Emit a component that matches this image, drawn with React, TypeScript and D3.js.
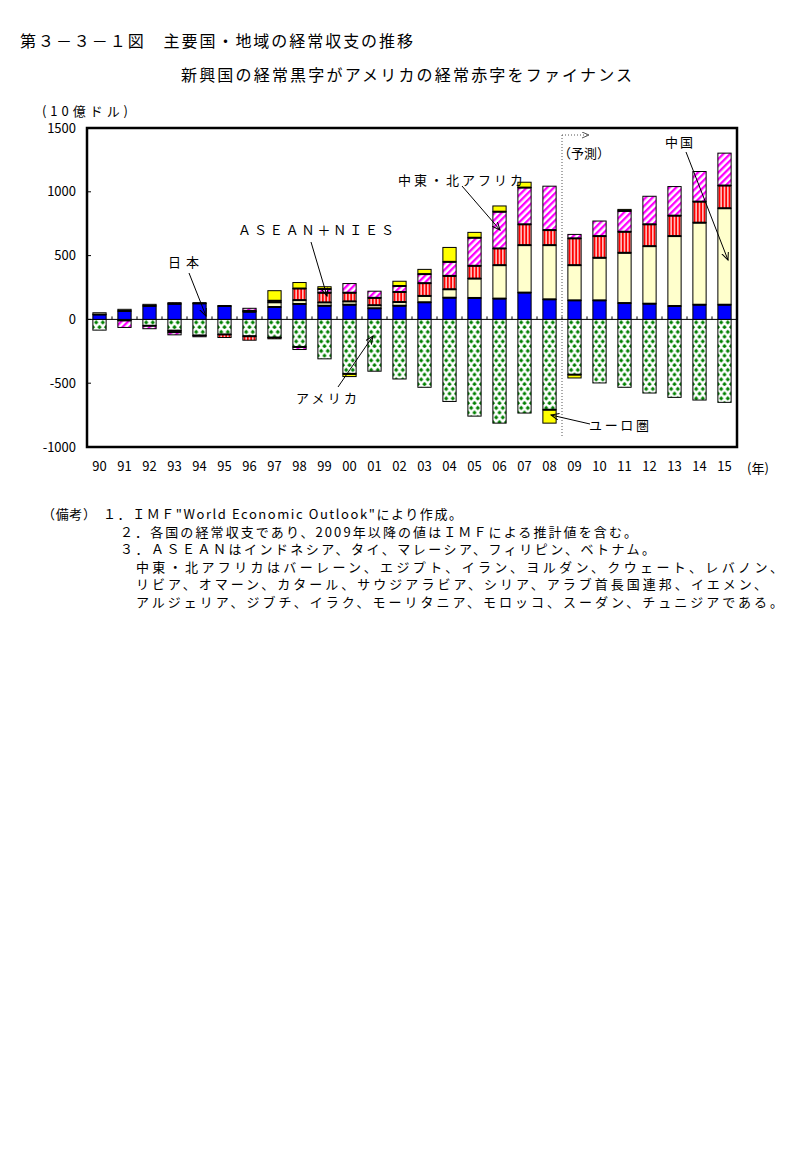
import React from 'react';
import * as d3 from 'd3';

const years = ['90','91','92','93','94','95','96','97','98','99','00','01','02','03','04','05','06','07','08','09','10','11','12','13','14','15'];
const usValues = [-84,-8,-50,-88,-126,-118,-132,-142,-216,-309,-427,-406,-467,-532,-643,-758,-813,-734,-708,-433,-498,-532,-577,-611,-632,-650];
const japanValues = [38,66,106,122,125,105,60,97,121,107,115,87,107,134,170,168,163,210,157,149,149,128,123,105,115,115];
const chinaValues = [14,13,12,-12,6,2,7,37,30,26,26,24,29,50,66,152,262,372,425,276,334,394,451,548,643,756];
const aseanValues = [0,0,0,9,0,-24,-31,-10,91,76,68,58,79,100,105,100,131,163,118,210,170,165,171,160,165,178];
const menaValues = [0,-55,-23,-21,-10,0,20,12,-20,29,72,52,47,71,110,220,288,288,344,31,118,163,220,228,236,254];
const euroValues = [0,0,0,0,0,0,0,79,47,18,-21,0,37,37,113,42,45,42,-105,-26,0,12,0,0,0,0];
const yTicks = [1500,1000,500,0,-500,-1000];

const keys = ['us','japan','china','asean','mena','euro'];
const FONT = "'Noto Sans CJK JP', 'Noto Sans', sans-serif";

export default function App() {
  const x = d3.scaleBand<string>().domain(years).range([87, 737]).paddingInner(0.47).paddingOuter(0.235);
  const y = d3.scaleLinear().domain([-1000, 1500]).range([447, 128]);
  const bw = x.bandwidth();

  const rows = years.map((yr, i) => ({
    year: yr, us: usValues[i], japan: japanValues[i], china: chinaValues[i],
    asean: aseanValues[i], mena: menaValues[i], euro: euroValues[i],
  }));
  const series = d3.stack<any>().keys(keys).offset(d3.stackOffsetDiverging)(rows);

  const fillFor = (key: string, i: number) => {
    switch (key) {
      case 'us': return `url(#dia${i})`;
      case 'japan': return '#0000FF';
      case 'china': return '#FFFFCC';
      case 'asean': return 'url(#stripe)';
      case 'mena': return 'url(#hatch)';
      default: return '#FFFF00';
    }
  };

  const bars: React.ReactNode[] = [];
  const seps: React.ReactNode[] = [];
  years.forEach((yr, i) => {
    const segs = series.map(s => ({ key: s.key, a: s[i][0], b: s[i][1] })).filter(d => d.a !== d.b);
    const pos = segs.filter(d => d.b > 0 && d.a >= 0).sort((p, q) => p.a - q.a);
    const neg = segs.filter(d => d.b <= 0 && d.a < 0).sort((p, q) => q.b - p.b);
    const x0 = x(yr)!;
    segs.forEach(d => {
      const top = y(Math.max(d.a, d.b));
      const bot = y(Math.min(d.a, d.b));
      bars.push(<rect key={`${yr}-${d.key}`} x={x0} y={top} width={bw} height={bot - top}
        fill={fillFor(d.key, i)} stroke="#000" strokeWidth={1} />);
    });
    pos.slice(0, -1).forEach(d => {
      seps.push(<line key={`sp${yr}-${d.key}`} x1={x0} x2={x0 + bw} y1={y(d.b)} y2={y(d.b)} stroke="#000" strokeWidth={2} />);
    });
    neg.slice(0, -1).forEach(d => {
      seps.push(<line key={`sn${yr}-${d.key}`} x1={x0} x2={x0 + bw} y1={y(d.a)} y2={y(d.a)} stroke="#000" strokeWidth={2} />);
    });
  });

  const step = x.step();
  const zeroY = y(0);

  const arrows = [
    [189, 273, 206, 316],
    [311, 242, 327, 296],
    [462, 186, 500, 230],
    [686, 152, 728, 260],
    [338, 387, 373, 336],
    [590, 424, 551, 415],
  ];

  const label = (t: string, x0: number, x1: number, yb: number, size = 13) => (
    <text key={t} x={x0} y={yb} fontSize={size} textLength={x1 - x0} lengthAdjust="spacing" fontFamily={FONT}>{t}</text>
  );

  return (
    <svg width={806} height={1170} style={{ display: 'block', margin: '-8px 0 0 -8px' }}>
      <defs>
        <pattern id="stripe" patternUnits="objectBoundingBox" width={0.25} height={1}>
          <rect x={0} y={0} width={4} height={2000} fill="#fff" />
          <rect x={0.6} y={0} width={2.1} height={2000} fill="#FF0000" />
        </pattern>
        <pattern id="hatch" patternUnits="userSpaceOnUse" width={4.8} height={4.8} patternTransform="rotate(45)">
          <rect x={0} y={0} width={4.8} height={4.8} fill="#fff" />
          <rect x={0} y={0} width={2.3} height={4.8} fill="#FF00FF" />
        </pattern>
        {years.map((yr, i) => {
          const x0 = x(yr)!;
          const w = bw / 2;
          const r = 2.2;
          const h = 9.5;
          const dia = (cx: number, cy: number) => `M${cx},${cy - r}L${cx + r},${cy}L${cx},${cy + r}L${cx - r},${cy}Z`;
          return (
            <pattern key={yr} id={`dia${i}`} patternUnits="userSpaceOnUse" x={x0} y={zeroY} width={w} height={h}>
              <rect x={0} y={0} width={w} height={h} fill="#fff" />
              <path d={dia(w / 2, 3) + dia(0, 3 + h / 2) + dia(w, 3 + h / 2)} fill="#008000" />
            </pattern>
          );
        })}
        <marker id="arr" markerUnits="userSpaceOnUse" markerWidth={10} markerHeight={8} refX={8} refY={3.5} orient="auto">
          <path d="M0,0 L8,3.5 L0,7" fill="none" stroke="#000" strokeWidth={1} />
        </marker>
        <marker id="arr2" markerUnits="userSpaceOnUse" markerWidth={10} markerHeight={8} refX={7} refY={3} orient="auto">
          <path d="M0,0 L7,3 L0,6" fill="none" stroke="#555" strokeWidth={1} />
        </marker>
      </defs>

      <text x={20} y={47} fontSize={16} fontFamily={FONT} textLength={393} lengthAdjust="spacing">第３－３－１図　主要国・地域の経常収支の推移</text>
      <text x={181} y={81} fontSize={16} fontFamily={FONT} textLength={451} lengthAdjust="spacing">新興国の経常黒字がアメリカの経常赤字をファイナンス</text>
      <text x={42} y={116} fontSize={13} fontFamily={FONT} textLength={86} lengthAdjust="spacing">(10億ドル)</text>

      {/* zero line and ticks */}
      <line x1={87} x2={737} y1={zeroY} y2={zeroY} stroke="#000" strokeWidth={1} />
      {years.slice(1).map((yr) => (
        <line key={`t${yr}`} x1={x(yr)! - (step - bw) / 2} x2={x(yr)! - (step - bw) / 2} y1={zeroY} y2={zeroY - 3} stroke="#000" strokeWidth={1} />
      ))}
      {yTicks.map(v => (
        <line key={`yt${v}`} x1={87} x2={91} y1={y(v)} y2={y(v)} stroke="#000" strokeWidth={1} />
      ))}

      {bars}
      {seps}

      {/* forecast marker */}
      <line x1={562} x2={562} y1={135} y2={437} stroke="#555" strokeWidth={1} strokeDasharray="1,2" />
      <line x1={562} x2={589} y1={135} y2={135} stroke="#555" strokeWidth={1} strokeDasharray="1,2" markerEnd="url(#arr2)" />

      {/* frame */}
      <rect x={87} y={128} width={650} height={319} fill="none" stroke="#000" strokeWidth={2.5} />

      {/* y labels */}
      {yTicks.map(v => (
        <text key={`yl${v}`} x={76} y={y(v)} dy="0.36em" textAnchor="end" fontSize={13} fontFamily={FONT}>{v}</text>
      ))}
      {/* x labels */}
      {years.map(yr => (
        <text key={`xl${yr}`} x={x(yr)! + bw / 2} y={471} textAnchor="middle" fontSize={13} fontFamily={FONT}>{yr}</text>
      ))}
      <text x={747} y={473} fontSize={13} fontFamily={FONT}>(年)</text>

      {/* annotations */}
      {arrows.map((a, i) => (
        <line key={`ar${i}`} x1={a[0]} y1={a[1]} x2={a[2]} y2={a[3]} stroke="#000" strokeWidth={1} markerEnd="url(#arr)" />
      ))}
      {label('日本', 168, 199, 267)}
      {label('ＡＳＥＡＮ＋ＮＩＥＳ', 238, 394, 235)}
      {label('中東・北アフリカ', 398, 523, 185)}
      {label('中国', 665, 693, 147)}
      {label('アメリカ', 296, 357, 403)}
      {label('ユーロ圏', 589, 649, 430)}
      {label('（予測）', 558, 610, 158)}

      {/* notes */}
      {label('（備考）', 42, 96, 519)}
      {label('１．ＩＭＦ"World Economic Outlook"により作成。', 103, 462, 519)}
      {label('２．各国の経常収支であり、2009年以降の値はＩＭＦによる推計値を含む。', 120, 637, 537)}
      {label('３．ＡＳＥＡＮはインドネシア、タイ、マレーシア、フィリピン、ベトナム。', 120, 655, 554)}
      {label('中東・北アフリカはバーレーン、エジプト、イラン、ヨルダン、クウェート、レバノン、', 136, 783, 572)}
      {label('リビア、オマーン、カタール、サウジアラビア、シリア、アラブ首長国連邦、イエメン、', 136, 767, 589)}
      {label('アルジェリア、ジブチ、イラク、モーリタニア、モロッコ、スーダン、チュニジアである。', 136, 783, 607)}
    </svg>
  );
}
